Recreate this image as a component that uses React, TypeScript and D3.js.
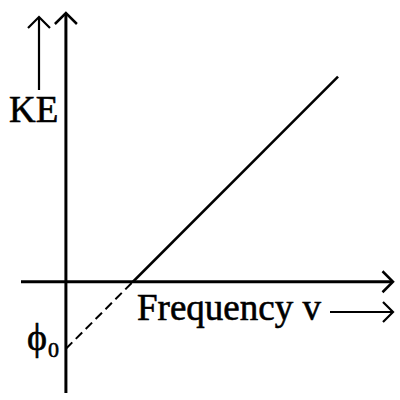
import * as d3 from "d3"

// photoelectric effect: KE = h(v - v0), intercept -phi0
const frequency = [0, 1, 4.06]
const kineticEnergy = [-1, 0, 3.06]
const xLabel = "Frequency v"
const yLabel = "KE"
const interceptLabel = "ϕ"
const interceptSub = "0"

const W = 400
const H = 400

const App = () => {
  const x = d3.scaleLinear().domain([-0.67, 4.88]).range([21, 393])
  const y = d3.scaleLinear().domain([-1.66, 4.01]).range([393, 13])

  const pts = frequency.map((f, i) => [x(f), y(kineticEnergy[i])] as [number, number])
  const line = d3.line()
  const dashed = line(pts.slice(0, 2)) || ""
  const solid = line(pts.slice(1)) || ""

  const x0 = x(0)
  const y0 = y(0)
  const font = "'Liberation Serif', 'Times New Roman', serif"

  // open chevron arrow heads
  const head = (tx: number, ty: number, dir: "up" | "right", s: number) =>
    dir === "up"
      ? `M${tx - s},${ty + s}L${tx},${ty}L${tx + s},${ty + s}`
      : `M${tx - s},${ty - s}L${tx},${ty}L${tx - s},${ty + s}`

  return (
    <svg
      width={W}
      height={H}
      style={{ position: "absolute", left: 0, top: 0, background: "white" }}
    >
      <g stroke="black" fill="none" strokeLinecap="butt">
        {/* vertical axis */}
        <line x1={x0} x2={x0} y1={y.range()[0]} y2={y.range()[1] + 1} strokeWidth={3} />
        <path d={head(x0, y.range()[1], "up", 11)} strokeWidth={2.5} />
        {/* horizontal axis */}
        <line x1={x.range()[0]} x2={x.range()[1] - 1} y1={y0} y2={y0} strokeWidth={3} />
        <path d={head(x.range()[1], y0, "right", 10.5)} strokeWidth={2.5} />

        {/* KE direction arrow */}
        <line x1={39} x2={39} y1={90} y2={18} strokeWidth={2.2} />
        <path d={head(39, 17, "up", 11)} strokeWidth={2.2} />

        {/* frequency direction arrow */}
        <line x1={330} x2={392} y1={312} y2={312} strokeWidth={2.2} />
        <path d={head(393, 312, "right", 10)} strokeWidth={2.2} />

        {/* data */}
        <path d={solid} strokeWidth={2.5} />
        <path d={dashed} strokeWidth={2} strokeDasharray="9,5" />
      </g>

      <g fontFamily={font} fill="black" stroke="black" strokeWidth={0.6}>
        <text x={9} y={122} fontSize={37}>{yLabel}</text>
        <text x={137} y={320} fontSize={37}>{xLabel}</text>
        <text x={27} y={350} fontSize={38}>{interceptLabel}</text>
        <text x={48} y={357} fontSize={22}>{interceptSub}</text>
      </g>
    </svg>
  )
}

export default App
